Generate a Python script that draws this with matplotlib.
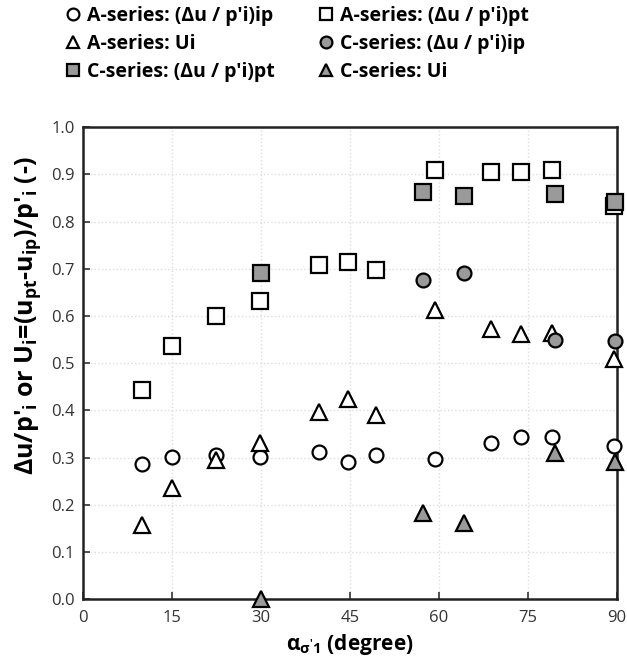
import numpy as np
import matplotlib.pyplot as plt

plt.rcParams['font.family'] = ['Open Sans', 'DejaVu Sans']
plt.rcParams['mathtext.fontset'] = 'custom'
plt.rcParams['mathtext.rm'] = 'Open Sans'
plt.rcParams['mathtext.bf'] = 'Open Sans:bold'
plt.rcParams['mathtext.default'] = 'bf'

# A-series
a_ang = [10.0, 15.1, 22.4, 29.9, 39.8, 44.7, 49.4, 59.3, 68.7, 73.9, 79.1, 89.5]
a_ip = [0.286, 0.301, 0.306, 0.301, 0.311, 0.290, 0.305, 0.297, 0.330, 0.343, 0.343, 0.324]
a_pt = [0.444, 0.536, 0.600, 0.631, 0.708, 0.714, 0.697, 0.909, 0.905, 0.905, 0.909, 0.832]
a_ui = [0.157, 0.235, 0.294, 0.330, 0.397, 0.425, 0.390, 0.612, 0.573, 0.561, 0.564, 0.508]

# C-series
c_ang = [30.0, 57.4, 64.3, 79.5, 89.7]
c_ip = [np.nan, 0.677, 0.690, 0.549, 0.547]
c_pt = [0.690, 0.863, 0.854, 0.859, 0.842]
c_ui = [0.0, 0.183, 0.162, 0.309, 0.291]

grey = '#9a9a9a'
fig = plt.figure(figsize=(6.27, 6.62), dpi=100)
ax = fig.add_axes([0.132, 0.095, 0.852, 0.713])

kw = dict(linestyle='none', markeredgecolor='black', markeredgewidth=1.6, clip_on=False, zorder=3)
h1, = ax.plot(a_ang, a_ip, 'o', markersize=10, markerfacecolor='white', label="A-series: (\u0394u / p'i)ip", **kw)
h2, = ax.plot(a_ang, a_pt, 's', markersize=11, markerfacecolor='white', label="A-series: (\u0394u / p'i)pt", **kw)
h3, = ax.plot(a_ang, a_ui, '^', markersize=11, markerfacecolor='white', label="A-series: Ui", **kw)
h4, = ax.plot(c_ang, c_ip, 'o', markersize=10, markerfacecolor=grey, label="C-series: (\u0394u / p'i)ip", **kw)
h5, = ax.plot(c_ang, c_pt, 's', markersize=11, markerfacecolor=grey, label="C-series: (\u0394u / p'i)pt", **kw)
h6, = ax.plot(c_ang, c_ui, '^', markersize=11, markerfacecolor=grey, label="C-series: Ui", **kw)

ax.set_xlim(0, 90)
ax.set_ylim(0, 1.0)
ax.set_xticks(np.arange(0, 91, 15))
ax.set_yticks(np.arange(0, 1.01, 0.1))
ax.yaxis.set_major_formatter(plt.FormatStrFormatter('%.1f'))
ax.tick_params(direction='in', length=5, width=1.2, labelsize=12, colors='#333333', pad=8)
ax.tick_params(axis='y', pad=6)
ax.grid(True, color='#dddddd', linestyle=':', linewidth=1)
ax.set_axisbelow(True)
for s in ax.spines.values():
    s.set_linewidth(1.8)
    s.set_color('#222222')

ax.set_xlabel("\u03b1$_{\u03c3'1}$ (degree)", fontsize=15, fontweight='bold', labelpad=4)
ax.set_ylabel("\u0394u/p'$_i$ or U$_i$=(u$_{pt}$-u$_{ip}$)/p'$_i$ (-)", fontsize=18, fontweight='bold')
ax.yaxis.set_label_coords(-0.075, 0.60)

fig.legend(handles=[h1, h3, h5, h2, h4, h6], ncol=2, loc='upper left', bbox_to_anchor=(0.085, 1.012),
           frameon=False, handlelength=0.6, handletextpad=0.45, columnspacing=2.3,
           labelspacing=0.42, borderpad=0.2, markerscale=0.85,
           prop={'weight': 'bold', 'size': 14})

fig.savefig('out.png', dpi=100)
